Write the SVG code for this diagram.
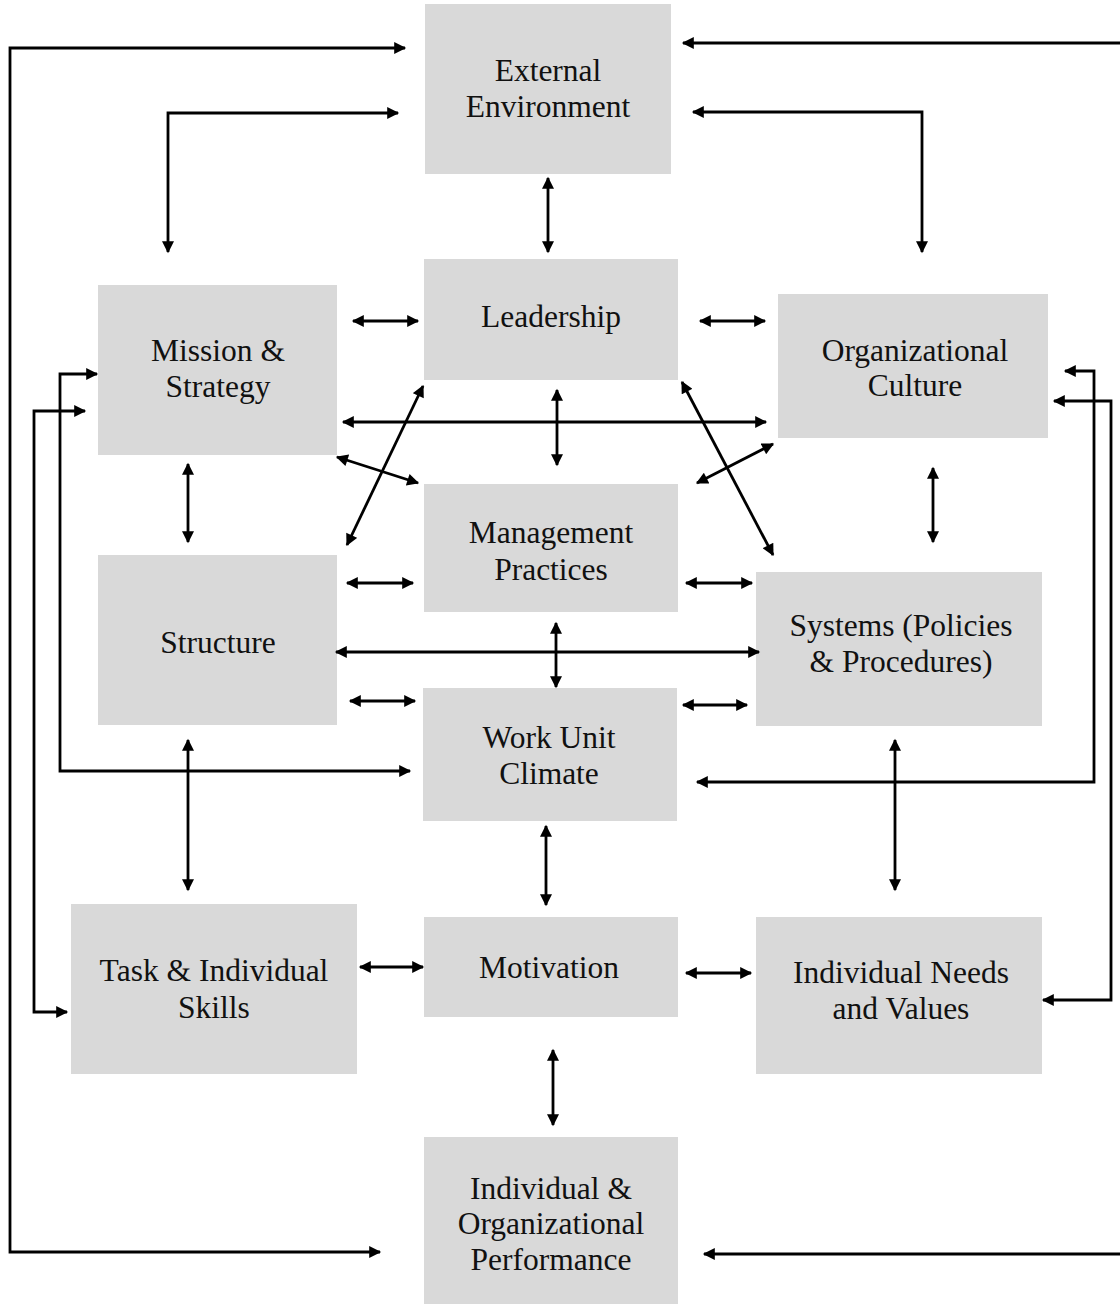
<svg xmlns="http://www.w3.org/2000/svg" width="1120" height="1304" viewBox="0 0 1120 1304">
<style>
.box{fill:#d9d9d9}
.t{font-family:'Liberation Serif',Tinos,'Times New Roman','DejaVu Serif',serif;font-size:31.5px;fill:#111;text-anchor:middle}
.c{fill:none;stroke:#000;stroke-width:2.8}
</style>
<defs>
<marker id="ah" viewBox="0 0 10 10" refX="9" refY="5" markerWidth="13" markerHeight="12" markerUnits="userSpaceOnUse" orient="auto-start-reverse">
<path d="M0,0 L10,5 L0,10 z" fill="#000"/>
</marker>
</defs>
<rect width="1120" height="1304" fill="#fff"/>
<g id="n-external"><rect class="box" x="425" y="4" width="246" height="170"/><text class="t" x="548" y="81">External</text><text class="t" x="548" y="117">Environment</text></g>
<g id="n-leadership"><rect class="box" x="424" y="259" width="254" height="121"/><text class="t" x="551" y="327">Leadership</text></g>
<g id="n-mission"><rect class="box" x="98" y="285" width="239" height="170"/><text class="t" x="218" y="361">Mission &amp;</text><text class="t" x="218" y="397">Strategy</text></g>
<g id="n-culture"><rect class="box" x="778" y="294" width="270" height="144"/><text class="t" x="915" y="361">Organizational</text><text class="t" x="915" y="396">Culture</text></g>
<g id="n-management"><rect class="box" x="424" y="484" width="254" height="128"/><text class="t" x="551" y="543">Management</text><text class="t" x="551" y="580">Practices</text></g>
<g id="n-structure"><rect class="box" x="98" y="555" width="239" height="170"/><text class="t" x="218" y="653">Structure</text></g>
<g id="n-systems"><rect class="box" x="756" y="572" width="286" height="154"/><text class="t" x="901" y="636">Systems (Policies</text><text class="t" x="901" y="672">&amp; Procedures)</text></g>
<g id="n-workunit"><rect class="box" x="423" y="688" width="254" height="133"/><text class="t" x="549" y="748">Work Unit</text><text class="t" x="549" y="784">Climate</text></g>
<g id="n-task"><rect class="box" x="71" y="904" width="286" height="170"/><text class="t" x="214" y="981">Task &amp; Individual</text><text class="t" x="214" y="1018">Skills</text></g>
<g id="n-motivation"><rect class="box" x="424" y="917" width="254" height="100"/><text class="t" x="549" y="978">Motivation</text></g>
<g id="n-needs"><rect class="box" x="756" y="917" width="286" height="157"/><text class="t" x="901" y="983">Individual Needs</text><text class="t" x="901" y="1019">and Values</text></g>
<g id="n-performance"><rect class="box" x="424" y="1137" width="254" height="167"/><text class="t" x="551" y="1199">Individual &amp;</text><text class="t" x="551" y="1234">Organizational</text><text class="t" x="551" y="1270">Performance</text></g>
<g id="connectors" class="c" marker-start="url(#ah)" marker-end="url(#ah)">
<path class="c" d="M405,48 H10 V1252 H380"/>
<path class="c" d="M683,43 H1123 V1254 H704"/>
<path class="c" d="M398,113 H168 V252"/>
<path class="c" d="M693,112 H922 V252"/>
<path class="c" d="M548,178 V252"/>
<path class="c" d="M353,321 H418"/>
<path class="c" d="M700,321 H765"/>
<path class="c" d="M343,422 H766"/>
<path class="c" d="M557,390 V465"/>
<path class="c" d="M423,386 L347,545"/>
<path class="c" d="M337,457 L418,483"/>
<path class="c" d="M682,382 L773,555"/>
<path class="c" d="M697,483 L773,444"/>
<path class="c" d="M188,464 V542"/>
<path class="c" d="M933,468 V542"/>
<path class="c" d="M347,583 H413"/>
<path class="c" d="M686,583 H752"/>
<path class="c" d="M336,652 H759"/>
<path class="c" d="M556,623 V687"/>
<path class="c" d="M350,701 H415"/>
<path class="c" d="M683,705 H747"/>
<path class="c" d="M97,374 H60 V771 H410"/>
<path class="c" d="M85,411 H34 V1012 H67"/>
<path class="c" d="M1065,371 H1094 V782 H697"/>
<path class="c" d="M1054,401 H1111 V1000 H1043"/>
<path class="c" d="M188,740 V890"/>
<path class="c" d="M895,740 V890"/>
<path class="c" d="M546,826 V905"/>
<path class="c" d="M360,967 H423"/>
<path class="c" d="M686,973 H751"/>
<path class="c" d="M553,1050 V1125"/>
</g>
</svg>
